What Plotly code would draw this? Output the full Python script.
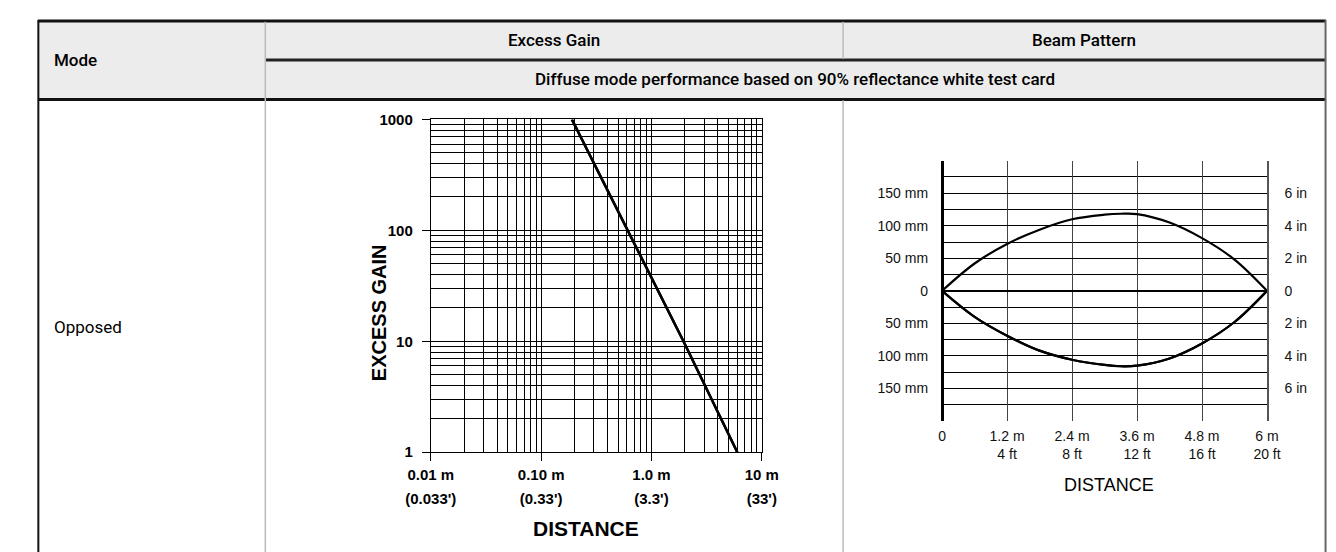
import plotly.graph_objects as go

W, H = 1336, 552
def px(x): return x / W
def py(y): return 1 - y / H

# ---------------- data ----------------
eg_distance_m = [0.19, 0.61, 1.95, 6.0]
eg_gain = [1000, 100, 10, 1]
eg_xticks = [0.01, 0.1, 1, 10]
eg_xlabels_m = ["0.01 m", "0.10 m", "1.0 m", "10 m"]
eg_xlabels_ft = ["(0.033')", "(0.33')", "(3.3')", "(33')"]
eg_yticks = [1, 10, 100, 1000]
eg_ylabels = ["1", "10", "100", "1000"]

bp_distance_m = [0, 0.6, 1.2, 1.8, 2.4, 3.0, 3.3, 3.6, 4.2, 4.8, 5.4, 6.0]
bp_upper_mm = [0, 42, 72, 94, 110, 117, 118.5, 118, 105, 81, 48, 0]
bp_lower_mm = [0, -40, -69, -92, -106, -114, -116, -115, -104, -81, -48, 0]
bp_xticks = [0, 1.2, 2.4, 3.6, 4.8, 6]
bp_xlabels = ["0", "1.2 m<br>4 ft", "2.4 m<br>8 ft", "3.6 m<br>12 ft", "4.8 m<br>16 ft", "6 m<br>20 ft"]
bp_yticks = [-150, -100, -50, 0, 50, 100, 150]
bp_ylabels_mm = ["150 mm", "100 mm", "50 mm", "0", "50 mm", "100 mm", "150 mm"]
bp_ylabels_in = ["6 in", "4 in", "2 in", "0", "2 in", "4 in", "6 in"]
bp_minor_y = [-175, -125, -75, -25, 25, 75, 125, 175]

header_mode = "Mode"
header_gain = "Excess Gain"
header_beam = "Beam Pattern"
header_note = "Diffuse mode performance based on 90% reflectance white test card"
row_mode = "Opposed"

NARROW = "Liberation Sans Narrow, Arial Narrow, Liberation Sans, Arial, sans-serif"
TABLE = "Roboto, Liberation Sans, Arial, sans-serif"

DIV1, DIV2 = 239, 836

eg_minor = [m * d for d in [0.01, 0.1, 1] for m in range(2, 10)]
eg_minor_y = [m * d for d in [1, 10, 100] for m in range(2, 10)]

fig = go.Figure()
fig.add_trace(go.Scatter(x=eg_distance_m, y=eg_gain, mode="lines",
                         line=dict(color="black", width=2.5), xaxis="x", yaxis="y",
                         showlegend=False, hoverinfo="skip"))
# same line on the overlay axis that carries the second row of distance labels
fig.add_trace(go.Scatter(x=eg_distance_m, y=eg_gain, mode="lines",
                         line=dict(color="black", width=2.5), xaxis="x3", yaxis="y",
                         showlegend=False, hoverinfo="skip"))
fig.add_trace(go.Scatter(x=bp_distance_m, y=bp_upper_mm, mode="lines",
                         line=dict(color="black", width=2.2, shape="spline"),
                         xaxis="x2", yaxis="y2", showlegend=False, hoverinfo="skip"))
fig.add_trace(go.Scatter(x=bp_distance_m, y=bp_lower_mm, mode="lines",
                         line=dict(color="black", width=2.2, shape="spline"),
                         xaxis="x2", yaxis="y2", showlegend=False, hoverinfo="skip"))
# same curve on the right-hand (inch) axis so that axis gets drawn
fig.add_trace(go.Scatter(x=bp_distance_m, y=bp_lower_mm, mode="lines",
                         line=dict(color="black", width=2.2, shape="spline"),
                         xaxis="x2", yaxis="y3", showlegend=False, hoverinfo="skip"))

tick_font_b = dict(family=NARROW, size=15, color="black", weight="bold")
tick_font = dict(family=NARROW, size=14, color="#111")

shapes = [
    dict(type="rect", xref="paper", yref="paper", x0=px(5), x1=px(1334), y0=py(85), y1=py(4),
         fillcolor="#ececec", line=dict(width=0), layer="below"),
    dict(type="line", xref="paper", yref="paper", x0=px(4), x1=px(1335), y0=py(4), y1=py(4),
         line=dict(color="#111", width=3)),
    dict(type="line", xref="paper", yref="paper", x0=px(DIV1), x1=px(1335), y0=py(44.3), y1=py(44.3),
         line=dict(color="#222", width=3)),
    dict(type="line", xref="paper", yref="paper", x0=px(4), x1=px(1335), y0=py(85), y1=py(85),
         line=dict(color="#111", width=3)),
    dict(type="line", xref="paper", yref="paper", x0=px(4.5), x1=px(4.5), y0=py(3), y1=py(552),
         line=dict(color="#111", width=2)),
    dict(type="line", xref="paper", yref="paper", x0=px(1334.5), x1=px(1334.5), y0=py(3), y1=py(552),
         line=dict(color="#666", width=2)),
    dict(type="line", xref="paper", yref="paper", x0=px(DIV1), x1=px(DIV1), y0=py(5), y1=py(552),
         line=dict(color="#bbb", width=1.5)),
    dict(type="line", xref="paper", yref="paper", x0=px(DIV2), x1=px(DIV2), y0=py(5), y1=py(43),
         line=dict(color="#bbb", width=1.5)),
    dict(type="line", xref="paper", yref="paper", x0=px(DIV2), x1=px(DIV2), y0=py(86), y1=py(552),
         line=dict(color="#bbb", width=1.5)),
]

def ann(text, x, y, size, xanchor="center", weight="normal", family=TABLE, textangle=0, color="black"):
    return dict(text=text, xref="paper", yref="paper", x=px(x), y=py(y), showarrow=False,
                xanchor=xanchor, yanchor="middle", textangle=textangle,
                font=dict(family=family, size=size, color=color, weight=weight))

annotations = [
    ann(header_mode, 19, 44, 17, xanchor="left", weight=500),
    ann(header_gain, (DIV1 + DIV2) / 2, 24, 17, weight=500),
    ann(header_beam, (DIV2 + 1334) / 2, 24, 17, weight=500),
    ann(header_note, (DIV1 + 1334) / 2, 64, 17, weight=500),
    ann(row_mode, 19, 320, 17, xanchor="left"),
    ann("EXCESS GAIN", 356, 305, 20, weight="bold", family=NARROW, textangle=-90),
    ann("DISTANCE", 570, 528, 21, weight="bold", family=NARROW),
    ann("DISTANCE", 1111, 483, 18, family=NARROW),
]

common_log_x = dict(type="log", range=[-2, 1], tickmode="array", tickvals=eg_xticks, fixedrange=True)

fig.update_layout(
    width=W, height=H, margin=dict(l=0, r=0, t=0, b=0),
    paper_bgcolor="white", plot_bgcolor="white",
    shapes=shapes, annotations=annotations, showlegend=False,
    xaxis=dict(**common_log_x, domain=[px(410), px(752)], anchor="y",
               ticktext=[f"<b>{t}</b>" for t in eg_xlabels_m],
               ticks="outside", ticklen=8, tickcolor="black", tickwidth=1,
               tickfont=tick_font_b, ticklabelstandoff=1,
               showgrid=True, gridcolor="black", gridwidth=1,
               minor=dict(tickmode="array", tickvals=eg_minor, showgrid=True, gridcolor="black", gridwidth=1, ticks=""),
               showline=True, linecolor="black", linewidth=1, mirror=True, zeroline=False),
    xaxis3=dict(**common_log_x, overlaying="x", side="bottom", anchor="y",
                ticktext=[f"<b>{t}</b>" for t in eg_xlabels_ft],
                ticks="", ticklen=0, tickfont=tick_font_b, ticklabelstandoff=36,
                showgrid=False, showline=False, zeroline=False),
    yaxis=dict(type="log", range=[0, 3], domain=[py(449), py(105.7)], anchor="x",
               tickmode="array", tickvals=eg_yticks, ticktext=[f"<b>{t}</b>" for t in eg_ylabels],
               ticks="outside", ticklen=8, tickcolor="black", tickwidth=1,
               tickfont=tick_font_b, ticklabelstandoff=6,
               showgrid=True, gridcolor="black", gridwidth=1,
               minor=dict(tickmode="array", tickvals=eg_minor_y, showgrid=True, gridcolor="black", gridwidth=1, ticks=""),
               showline=True, linecolor="black", linewidth=1, mirror=True, zeroline=False, fixedrange=True),
    xaxis2=dict(range=[0, 6], domain=[px(938.3), px(1274)], anchor="y2",
                tickmode="array", tickvals=bp_xticks, ticktext=bp_xlabels,
                ticks="", tickfont=tick_font, ticklabelstandoff=5,
                showgrid=True, gridcolor="#444", gridwidth=1.3,
                zeroline=True, zerolinecolor="black", zerolinewidth=2.5,
                showline=False, fixedrange=True),
    yaxis2=dict(range=[-200, 200], domain=[py(416.7), py(148.3)], anchor="x2",
                tickmode="array", tickvals=bp_yticks, ticktext=bp_ylabels_mm,
                ticks="", tickfont=tick_font, ticklabelstandoff=13,
                showgrid=True, gridcolor="black", gridwidth=1,
                minor=dict(tickmode="array", tickvals=bp_minor_y, showgrid=True, gridcolor="black", gridwidth=1, ticks=""),
                zeroline=True, zerolinecolor="black", zerolinewidth=2,
                showline=False, fixedrange=True),
    yaxis3=dict(range=[-200, 200], overlaying="y2", side="right", anchor="x2",
                tickmode="array", tickvals=bp_yticks, ticktext=bp_ylabels_in,
                ticks="", tickfont=tick_font, ticklabelstandoff=13,
                showgrid=False, zeroline=False,
                showline=True, linecolor="#555", linewidth=1.5, fixedrange=True),
)

fig.write_html("out.html")
